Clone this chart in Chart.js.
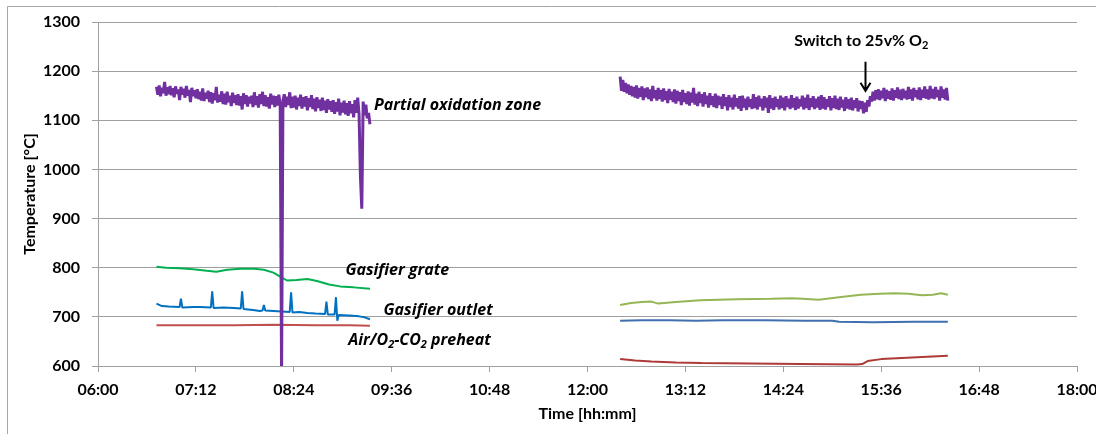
<!DOCTYPE html>
<html>
<head>
<meta charset="utf-8">
<script src="https://cdn.jsdelivr.net/npm/chart.js@4/dist/chart.umd.min.js"></script>
<style>
  html, body { margin: 0; padding: 0; background: #fff; }
  #wrap { width: 1096px; height: 434px; }
</style>
</head>
<body>
<div id="wrap"><canvas id="tempChart" width="1096" height="434"></canvas></div>
<script>
// time axis is in minutes after midnight
var tickStep = 72;

// partial oxidation zone, logged once a minute
var poxStart1 = 403;
var poxRun1 = [
  1168,1152,1171,1149,1166,1155,1178,1150,1167,1153,
  1170,1151,1165,1147,1169,1154,1163,1141,1168,1152,
  1164,1146,1170,1150,1162,1137,1166,1149,1161,1145,
  1163,1143,1158,1140,1165,1139,1156,1144,1160,1137,
  1157,1134,1155,1141,1168,1136,1152,1138,1159,1133,
  1154,1132,1158,1137,1150,1129,1156,1135,1151,1131,
  1153,1130,1149,1122,1155,1133,1151,1128,1148,1134,
  1150,1127,1157,1131,1149,1126,1153,1133,1158,1129,
  1151,1128,1147,1124,1154,1132,1150,1127,1149,1130,
  1152,1131,580,1140,1153,1127,1148,1131,1157,1125,
  1148,1126,1150,1122,1146,1129,1152,1124,1147,1128,
  1149,1120,1145,1127,1151,1123,1144,1118,1147,1125,
  1142,1119,1146,1121,1140,1115,1143,1122,1139,1117,
  1141,1113,1137,1118,1144,1110,1136,1116,1140,1112,
  1135,1109,1139,1114,1133,1106,1141,1115,1146,1112,
  985,920,1138,1110,1132,1104,1115,1092
];
var poxStart2 = 744;
var poxRun2 = [
  1189,1160,1182,1158,1176,1155,1173,1152,1170,1149,
  1168,1146,1171,1144,1166,1148,1169,1141,1165,1147,
  1167,1143,1163,1139,1170,1145,1161,1140,1166,1143,
  1162,1138,1165,1141,1159,1135,1164,1142,1158,1137,
  1163,1134,1160,1139,1157,1131,1162,1137,1155,1133,
  1159,1130,1156,1136,1166,1132,1154,1129,1158,1135,
  1153,1128,1157,1133,1150,1126,1155,1131,1149,1127,
  1154,1125,1150,1131,1148,1123,1153,1129,1147,1120,
  1151,1127,1146,1122,1152,1128,1145,1124,1149,1119,
  1150,1126,1144,1121,1148,1127,1143,1123,1153,1125,
  1147,1122,1150,1128,1144,1120,1149,1126,1146,1115,
  1151,1124,1145,1121,1148,1127,1143,1122,1150,1125,
  1146,1120,1149,1127,1144,1123,1151,1126,1145,1121,
  1148,1124,1143,1128,1150,1122,1146,1125,1152,1121,
  1145,1127,1149,1123,1144,1126,1148,1121,1151,1124,
  1147,1122,1143,1127,1149,1120,1145,1125,1150,1123,
  1144,1121,1148,1126,1142,1119,1147,1124,1143,1122,
  1146,1120,1141,1125,1145,1118,1140,1123,1139,1114,
  1136,1117,1141,1128,1149,1138,1158,1140,1161,1143,
  1163,1141,1160,1145,1166,1139,1162,1144,1159,1142,
  1165,1140,1161,1146,1167,1143,1162,1141,1164,1145,
  1160,1142,1168,1144,1163,1140,1166,1147,1161,1143,
  1167,1141,1162,1146,1169,1144,1163,1142,1170,1145,
  1164,1143,1168,1147,1162,1140,1169,1146,1163,1142,
  1166,1140
];

// gasifier grate
var grateTime1 = [403,410,420,430,440,447,455,465,475,482,489,494,499,506,514,521,530,538,548,560];
var grateTemp1 = [802,800,799,797,794,792,796,798,798,796,790,782,774,775,777,773,766,762,760,757];
var grateTime2 = [744,752,760,767,772,785,803,830,855,870,878,890,905,921,935,946,956,966,974,980,985];
var grateTemp2 = [724,728,730,731,727,730,734,736,737,738,737,735,740,745,747,748,747,744,745,748,745];

// gasifier outlet
var outletTime1 = [403,407,412,420,421,422,430,435,443,444,445,452,460,465,466,467,474,479,481,482,483,489,495,501,502,503,508,514,520,527,528,529,534,535,536,537,545,552,556,560];
var outletTemp1 = [727,722,721,720,737,719,720,720,719,752,718,719,718,717,752,716,714,712,713,724,713,712,711,710,750,709,710,708,707,706,731,705,705,740,692,704,703,701,699,695];
var outletTime2 = [744,760,780,800,820,850,880,900,905,930,960,985];
var outletTemp2 = [692,693,693,692,693,693,692,692,690,689,690,690];

// air/O2-CO2 preheat
var preheatTime1 = [403,430,460,490,520,545,560];
var preheatTemp1 = [683,683,683,684,683,683,682];
var preheatTime2 = [744,755,767,785,804,840,877,918,922,926,936,955,970,985];
var preheatTemp2 = [614,611,609,607,606,605,604,603,604,610,614,617,619,621];

var yTicksMin = 600, yTicksMax = 1300, yStep = 100;
var xMin = 360, xMax = 1080;

var fontFamily = 'Lato, "Open Sans", sans-serif';
var noteFamily = '"Open Sans", Lato, sans-serif';

function fromRun(start, vals) {
  return vals.map(function(v, i) { return {x: start + i, y: v}; });
}

function fromPairs(xs, ys) {
  return xs.map(function(x, i) { return {x: x, y: ys[i]}; });
}

function hhmm(m) {
  var h = Math.floor(m / 60), mm = Math.round(m % 60);
  return (h < 10 ? '0' : '') + h + ':' + (mm < 10 ? '0' : '') + mm;
}

function lineSet(label, data, color, width) {
  return {
    label: label,
    data: data,
    borderColor: color,
    backgroundColor: color,
    borderWidth: width,
    pointRadius: 0,
    borderJoinStyle: 'bevel',
    fill: false,
    tension: 0
  };
}

// text drawn on the plot, placed in data units (minutes, degC)
var notes = [
  {x: 563, y: 1131, italic: true, parts: [['Partial oxidation zone']]},
  {x: 542, y: 795, italic: true, parts: [['Gasifier grate']]},
  {x: 570, y: 714, italic: true, parts: [['Gasifier outlet']]},
  {x: 544, y: 653, italic: true, parts: [['Air/O'], ['2', 1], ['-CO'], ['2', 1], [' preheat']]},
  {x: 872, y: 1262, italic: false, parts: [['Switch to 25v% O'], ['2', 1]]}
];
var arrowAt = {x: 924, from: 1219, to: 1160};

function drawParts(ctx, parts, x, y, size, italic) {
  var style = (italic ? 'italic ' : '') + 'bold ';
  var family = italic ? noteFamily : fontFamily;
  parts.forEach(function(p) {
    var sub = p[1] === 1;
    var s = sub ? Math.round(size * 0.68) : size;
    ctx.font = style + s + 'px ' + family;
    ctx.fillText(p[0], x, sub ? y + size * 0.3 : y);
    x += ctx.measureText(p[0]).width;
  });
}

var annotate = {
  id: 'annotate',
  afterDraw: function(chart) {
    var ctx = chart.ctx, xs = chart.scales.x, ys = chart.scales.y;
    ctx.save();
    // outer frame
    ctx.strokeStyle = '#a6a6a6';
    ctx.lineWidth = 1;
    ctx.beginPath();
    ctx.moveTo(7.5, 434);
    ctx.lineTo(7.5, 6.5);
    ctx.lineTo(1096, 6.5);
    ctx.stroke();

    ctx.fillStyle = '#000';
    ctx.textBaseline = 'middle';
    ctx.textAlign = 'left';
    notes.forEach(function(n) {
      drawParts(ctx, n.parts, xs.getPixelForValue(n.x), ys.getPixelForValue(n.y), 16, n.italic);
    });

    // arrow to the oxygen switch
    var ax = Math.round(xs.getPixelForValue(arrowAt.x)) + 0.5;
    var ay0 = ys.getPixelForValue(arrowAt.from), ay1 = ys.getPixelForValue(arrowAt.to);
    ctx.strokeStyle = '#000';
    ctx.lineWidth = 2;
    ctx.beginPath();
    ctx.moveTo(ax, ay0);
    ctx.lineTo(ax, ay1);
    ctx.moveTo(ax - 5, ay1 - 8);
    ctx.lineTo(ax, ay1);
    ctx.lineTo(ax + 5, ay1 - 8);
    ctx.stroke();
    ctx.restore();
  }
};

var ctx = document.getElementById('tempChart').getContext('2d');
var tempChart = new Chart(ctx, {
  type: 'line',
  data: {
    datasets: [
      lineSet('Partial oxidation zone', fromRun(poxStart1, poxRun1), '#7030a0', 3),
      lineSet('Partial oxidation zone', fromRun(poxStart2, poxRun2), '#7030a0', 3),
      lineSet('Gasifier grate', fromPairs(grateTime1, grateTemp1), '#00b050', 2),
      lineSet('Gasifier grate', fromPairs(grateTime2, grateTemp2), '#94b655', 2),
      lineSet('Gasifier outlet', fromPairs(outletTime1, outletTemp1), '#0070c0', 2),
      lineSet('Gasifier outlet', fromPairs(outletTime2, outletTemp2), '#3f6fae', 2),
      lineSet('Air/O2-CO2 preheat', fromPairs(preheatTime1, preheatTemp1), '#c0504d', 2),
      lineSet('Air/O2-CO2 preheat', fromPairs(preheatTime2, preheatTemp2), '#ad3a37', 2)
    ]
  },
  options: {
    responsive: false,
    animation: false,
    devicePixelRatio: 1,
    layout: { padding: { left: 0, top: 22, right: 19, bottom: 0 } },
    plugins: {
      legend: { display: false },
      tooltip: { enabled: false }
    },
    scales: {
      x: {
        type: 'linear',
        min: xMin,
        max: xMax,
        afterFit: function(scale) {
          scale.height = 68;
          scale.paddingLeft = 0;
          scale.paddingRight = 0;
        },
        grid: { drawOnChartArea: false, drawTicks: true, tickLength: 6, color: '#a0a0a0' },
        border: { display: true, color: '#a0a0a0' },
        ticks: {
          stepSize: tickStep,
          maxRotation: 0,
          autoSkip: false,
          padding: 8,
          color: '#000',
          font: { family: fontFamily, size: 16, weight: 'bold' },
          callback: function(v) { return hhmm(v); }
        },
        title: {
          display: true,
          text: 'Time [hh:mm]',
          color: '#000',
          padding: { top: 0, bottom: 11 },
          font: { family: fontFamily, size: 16, weight: 'bold' }
        }
      },
      y: {
        min: yTicksMin,
        max: yTicksMax,
        afterFit: function(scale) { scale.width = 98; },
        grid: { color: '#a0a0a0', tickLength: 6 },
        border: { display: true, color: '#a0a0a0' },
        ticks: {
          stepSize: yStep,
          padding: 12,
          color: '#000',
          font: { family: fontFamily, size: 16, weight: 'bold' },
          callback: function(v) { return String(v); }
        },
        title: {
          display: true,
          text: 'Temperature [°C]',
          color: '#000',
          padding: { top: 20, bottom: 0 },
          font: { family: fontFamily, size: 16, weight: 'bold' }
        }
      }
    }
  },
  plugins: [annotate]
});
</script>
</body>
</html>
